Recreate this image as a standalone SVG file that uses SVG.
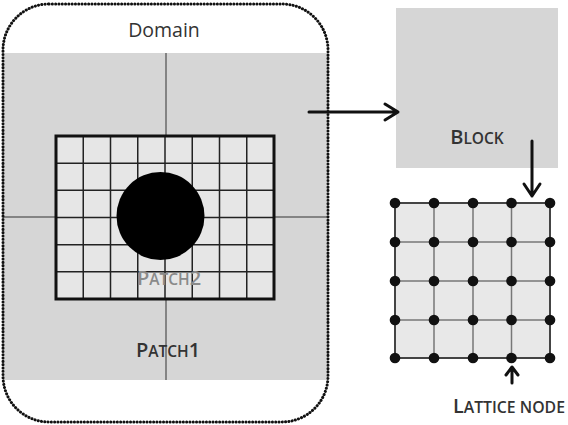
<svg xmlns="http://www.w3.org/2000/svg" width="568" height="425" viewBox="0 0 568 425">
<defs>
<style>
.lbl{font-family:"Open Sans","Liberation Sans",sans-serif;fill:#333;font-weight:600;}
.big{font-size:20px;}
.sm{font-size:15.5px;}
.thin{stroke:#333;stroke-width:1;fill:none;}
.grid{stroke:#222;stroke-width:1.5;fill:none;}
.lat{stroke:#777;stroke-width:1.5;fill:none;}
.arrow{stroke:#111;stroke-width:3;fill:none;stroke-linecap:round;stroke-linejoin:round;}
.dot{fill:#111;}
</style>
</defs>
<rect width="568" height="425" fill="#fff"/>

<g id="domain">
<rect x="3" y="53" width="325" height="327" fill="#d6d6d6"/>
<line class="thin" x1="166" y1="53" x2="166" y2="380"/>
<line class="thin" x1="3" y1="217" x2="328" y2="217"/>
<rect x="3" y="4" width="325" height="418" rx="46" ry="46" fill="none" stroke="#111" stroke-width="3" stroke-linecap="round" stroke-dasharray="0.1 3.2"/>
<text x="164" y="37" font-family="Open Sans, Liberation Sans, sans-serif" font-size="19.5" fill="#333" text-anchor="middle">Domain</text>
</g>

<g id="patch1">
<text class="lbl" x="168" y="357" text-anchor="middle"><tspan class="big">P</tspan><tspan class="sm">ATCH</tspan><tspan class="big">1</tspan></text>
</g>

<g id="patch2">
<rect x="56" y="136" width="218" height="163" fill="#e6e6e6"/>
<path class="grid" d="M83.25 136V299M110.5 136V299M137.75 136V299M165 136V299M192.25 136V299M219.5 136V299M246.75 136V299M56 163.2H274M56 190.3H274M56 217.5H274M56 244.7H274M56 271.8H274"/>
<rect x="56" y="136" width="218" height="163" fill="none" stroke="#111" stroke-width="3"/>
<circle cx="160.5" cy="216" r="44" fill="#000"/>
<text class="lbl" x="169" y="285" text-anchor="middle" style="fill:#8a8a8a"><tspan class="big">P</tspan><tspan class="sm">ATCH</tspan><tspan class="big">2</tspan></text>
</g>

<g id="block">
<rect x="396" y="8" width="162" height="160" fill="#d6d6d6"/>
<text class="lbl" x="477" y="144" text-anchor="middle"><tspan class="big">B</tspan><tspan class="sm">LOCK</tspan></text>
</g>

<g id="lattice">
<rect x="395" y="203" width="155" height="155" fill="#e8e8e8"/>
<path class="lat" d="M434 203V358M473 203V358M511.5 203V358M395 242H550M395 281H550M395 320H550"/>
<rect x="395" y="203" width="155" height="155" fill="none" stroke="#444" stroke-width="2"/>
<g class="dot">
<circle cx="395" cy="203" r="5.3"/><circle cx="434" cy="203" r="5.3"/><circle cx="473" cy="203" r="5.3"/><circle cx="511.5" cy="203" r="5.3"/><circle cx="550" cy="203" r="5.3"/>
<circle cx="395" cy="242" r="5.3"/><circle cx="434" cy="242" r="5.3"/><circle cx="473" cy="242" r="5.3"/><circle cx="511.5" cy="242" r="5.3"/><circle cx="550" cy="242" r="5.3"/>
<circle cx="395" cy="281" r="5.3"/><circle cx="434" cy="281" r="5.3"/><circle cx="473" cy="281" r="5.3"/><circle cx="511.5" cy="281" r="5.3"/><circle cx="550" cy="281" r="5.3"/>
<circle cx="395" cy="320" r="5.3"/><circle cx="434" cy="320" r="5.3"/><circle cx="473" cy="320" r="5.3"/><circle cx="511.5" cy="320" r="5.3"/><circle cx="550" cy="320" r="5.3"/>
<circle cx="395" cy="358" r="5.3"/><circle cx="434" cy="358" r="5.3"/><circle cx="473" cy="358" r="5.3"/><circle cx="511.5" cy="358" r="5.3"/><circle cx="550" cy="358" r="5.3"/>
</g>
</g>

<g id="lattice-node-label">
<text class="lbl" x="453" y="413" textLength="112" lengthAdjust="spacingAndGlyphs"><tspan font-size="20">L</tspan><tspan font-size="16">ATTICE NODE</tspan></text>
</g>

<g id="connectors">
<path class="arrow" d="M309 112H398M385 104L398 112L385 120"/>
<path class="arrow" d="M532 141V196M524 184L532 196L540 184"/>
<path class="arrow" d="M512 383V368M506 375L512 367L518 375"/>
</g>
</svg>
